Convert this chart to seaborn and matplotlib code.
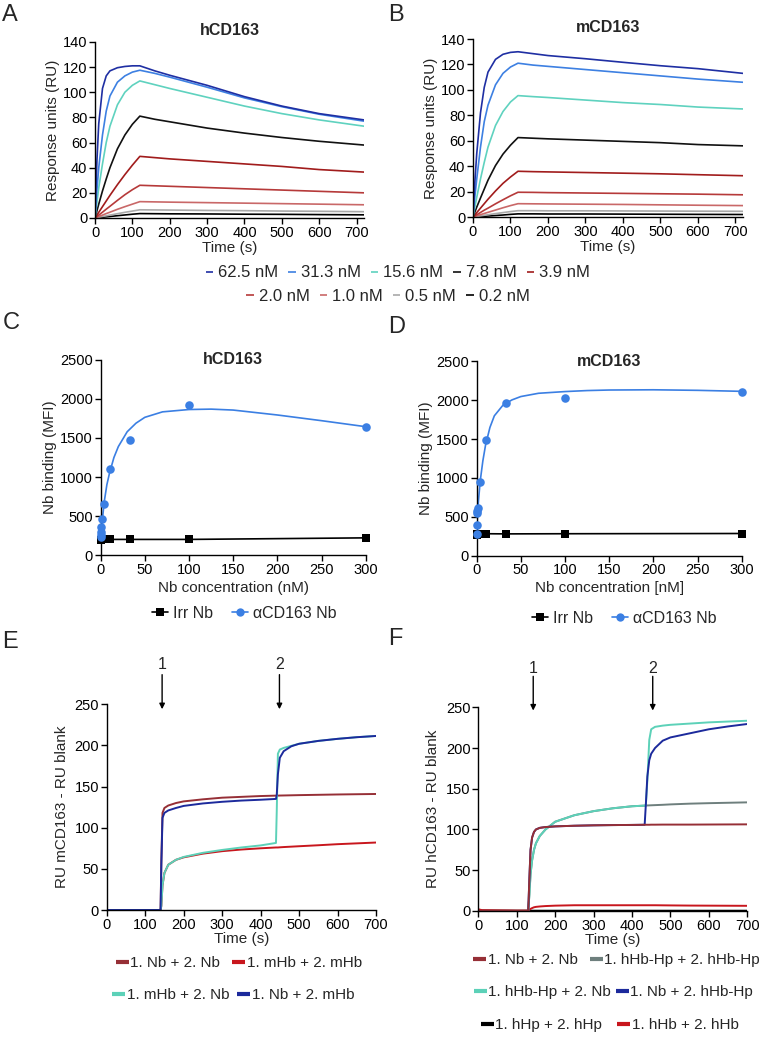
"""
SPR kinetics, Nb titration and sandwich binding panels (A-F)
"""

import matplotlib
matplotlib.use("Agg")
import matplotlib.pyplot as plt
from matplotlib.lines import Line2D
import seaborn as sns

# ============ DATA: panels A / B (SPR kinetics) ============
CONC_LABELS = ["62.5 nM", "31.3 nM", "15.6 nM", "7.8 nM", "3.9 nM",
               "2.0 nM", "1.0 nM", "0.5 nM", "0.2 nM"]
CONC_COLORS = ["#1f2fa3", "#3d80e2", "#5fd2bf", "#111111", "#a11c1c",
               "#b63a3a", "#c96868", "#a9a9a9", "#000000"]
T_KIN = [0, 5, 10, 20, 30, 40, 60, 80, 100, 120, 160, 200, 300, 400, 500, 600, 720]

H_625 = [0, 45, 75, 103, 113, 117, 119.5, 120.5, 121, 121, 117, 113.5, 105.5, 96.5, 89, 83, 78]
H_313 = [0, 22, 40, 66, 85, 97, 108, 113, 116, 117.5, 115, 112, 104, 95.5, 88.5, 82.5, 77]
H_156 = [0, 12, 24, 43, 60, 73, 90, 100, 105.5, 109, 106, 103, 96, 89, 83, 78, 73]
H_78 = [0, 5.5, 11, 21.5, 31, 40, 55, 66, 74.5, 81, 78.5, 76.5, 71.5, 67.5, 64, 61, 58]
H_39 = [0, 2.2, 4.5, 9, 13.5, 18, 26.5, 34.5, 42, 49, 48, 47, 45, 43, 41, 38.5, 36.5]
H_20 = [0, 1.1, 2.3, 4.6, 7, 9.3, 14, 18.5, 22.5, 26, 25.6, 25.2, 24.2, 23.2, 22.2, 21.2, 20]
H_10 = [0, 0.6, 1.2, 2.3, 3.5, 4.6, 6.9, 9, 11, 13, 12.8, 12.6, 12.2, 11.8, 11.4, 11, 10.5]
H_05 = [0, 0.3, 0.6, 1.2, 1.7, 2.3, 3.4, 4.5, 5.5, 6.5, 6.4, 6.3, 6, 5.8, 5.5, 5.3, 5]
H_02 = [0, 0.15, 0.3, 0.6, 0.9, 1.2, 1.8, 2.4, 3, 3.5, 3.4, 3.3, 3.2, 3, 2.9, 2.7, 2.5]

M_625 = [0, 28, 50, 82, 102, 114, 124, 128, 129.5, 130, 128.5, 127, 124.5, 121.7, 119, 116.7, 113]
M_313 = [0, 16, 30, 55, 75, 88, 104, 113, 118, 121, 119.5, 118.5, 116, 113.5, 111, 108.5, 106]
M_156 = [0, 8, 15.5, 30, 43, 55, 72, 83, 90.5, 95.5, 94.7, 94, 92, 90, 88.5, 86.5, 85]
M_78 = [0, 4, 7.8, 15, 22, 29, 40.5, 49.5, 56.5, 62.5, 62, 61.5, 60.5, 59.5, 58.5, 57, 56]
M_39 = [0, 1.7, 3.5, 7, 10.5, 14, 20.5, 26.5, 31.5, 36, 35.7, 35.5, 35, 34.5, 34, 33.3, 32.5]
M_20 = [0, 0.9, 1.8, 3.6, 5.4, 7, 10.4, 13.6, 16.7, 19.5, 19.4, 19.2, 18.9, 18.6, 18.3, 18, 17.5]
M_10 = [0, 0.5, 1, 1.9, 2.8, 3.7, 5.5, 7.3, 9, 10.5, 10.4, 10.3, 10.1, 9.9, 9.6, 9.3, 9]
M_05 = [0, 0.2, 0.5, 0.9, 1.4, 1.8, 2.7, 3.5, 4.3, 5, 5, 4.9, 4.9, 4.8, 4.7, 4.6, 4.5]
M_02 = [0, 0.1, 0.2, 0.4, 0.6, 0.8, 1.2, 1.6, 2.1, 2.5, 2.5, 2.4, 2.4, 2.3, 2.2, 2.1, 2]

H_CURVES = [H_625, H_313, H_156, H_78, H_39, H_20, H_10, H_05, H_02]
M_CURVES = [M_625, M_313, M_156, M_78, M_39, M_20, M_10, M_05, M_02]

# ============ DATA: panels C / D (Nb titration) ============
NB_CONC = [0.015, 0.046, 0.137, 0.41, 1.23, 3.7, 11.1, 33.3, 100, 300]
C_ANTI = [225, 260, 300, 360, 465, 655, 1100, 1480, 1920, 1635]
C_IRR = [195, 195, 195, 198, 200, 200, 200, 200, 200, 220]
D_ANTI = [285, 395, 550, 575, 610, 950, 1490, 1960, 2030, 2110]
D_IRR = [270, 275, 278, 280, 280, 282, 282, 280, 282, 285]

FIT_X = [0, 1, 2, 4, 7, 10, 15, 20, 30, 40, 50, 70, 100, 125, 150, 200, 250, 300]
C_FIT = [200, 330, 460, 680, 900, 1050, 1250, 1390, 1580, 1690, 1765, 1835, 1865, 1870,
         1858, 1795, 1722, 1645]
D_FIT = [290, 520, 700, 960, 1220, 1420, 1650, 1800, 1940, 2005, 2048, 2090, 2112, 2125,
         2132, 2135, 2128, 2115]

BLUE = "#3b7fe3"

# ============ DATA: panel E (mCD163 sandwich) ============
E_T = [0, 100, 140, 142, 145, 150, 160, 180, 200, 250, 300, 350, 400, 440, 442, 445,
       450, 460, 480, 500, 550, 600, 650, 700]
E_NB_NB = [0, 0, 0, 60, 118, 124, 127, 130, 132, 134.5, 136.5, 137.5, 138.5, 139, 139, 139,
           139.1, 139.2, 139.4, 139.6, 140, 140.4, 140.7, 141]
E_MHB_MHB = [0, 0, 0, 5, 30, 45, 55, 61, 64, 68.5, 71.5, 73.5, 75, 76, 76, 76,
             76.2, 76.5, 77, 77.5, 78.7, 80, 81, 82]
E_MHB_NB = [0, 0, 0, 5, 30, 45, 55, 61, 64.5, 69.5, 73, 76, 78.5, 81.5, 120, 190,
            195, 197, 199.5, 202, 205.5, 208, 210, 211.5]
E_NB_MHB = [0, 0, 0, 55, 112, 118, 121, 124, 126.5, 129.5, 131.5, 133, 134, 135, 140, 165,
            185, 193, 199, 202, 205.5, 208, 210, 211.5]
E_LABELS = ["1. Nb + 2. Nb", "1. mHb + 2. mHb", "1. mHb + 2. Nb", "1. Nb + 2. mHb"]
E_COLORS = ["#962f36", "#c8161d", "#5cd1b8", "#1c2a9c"]
E_ARROWS = [144, 449]

# ============ DATA: panel F (hCD163 sandwich) ============
F_T = [0, 10, 100, 130, 133, 136, 140, 145, 150, 160, 175, 200, 250, 300, 350, 400,
       433, 436, 440, 445, 450, 460, 480, 500, 550, 600, 650, 700]
F_NB_NB = [0, 0, 0, 0, 40, 75, 90, 97, 100, 102, 103, 103.8, 104.6, 105.1, 105.4, 105.6,
           105.8, 105.8, 105.8, 105.8, 105.9, 105.9, 106, 106, 106, 106.1, 106.2, 106.3]
F_HBHP_HBHP = [0, 0, 0, 0, 20, 45, 62, 75, 83, 92, 100, 109.5, 117.5, 122.5, 126, 128.5,
               129.3, 129.4, 129.5, 129.6, 129.7, 129.9, 130.3, 130.8, 131.7, 132.3, 132.8, 133.3]
F_HBHP_NB = [0, 0, 0, 0, 20, 45, 62, 75, 83, 92, 100, 109.5, 117.5, 122.5, 126, 128.5,
             129.3, 129.4, 160, 210, 223, 226, 227.5, 228.5, 230, 231.5, 232.5, 233.5]
F_NB_HBHP = [0, 0, 0, 0, 40, 75, 90, 97, 100, 102, 103, 103.8, 104.6, 105.1, 105.4, 105.6,
             105.8, 130, 165, 185, 193, 200, 209, 213, 218, 223, 226.5, 229.5]
F_HP_HP = [1.5, 0.5, 0.3, 0.3, 0.3, 0.3, 0.3, 0.3, 0.3, 0.3, 0.3, 0.3, 0.3, 0.3, 0.3, 0.3,
           0.3, 0.3, 0.3, 0.3, 0.3, 0.3, 0.3, 0.3, 0.3, 0.3, 0.3, 0.3]
F_HB_HB = [2, 1, 0.5, 0.5, 1.5, 2.5, 3.5, 4.5, 5, 5.5, 6, 6.5, 7, 7, 7, 7,
           7, 7, 7, 7, 7, 7, 6.9, 6.8, 6.6, 6.5, 6.4, 6.3]
F_LABELS = ["1. Nb + 2. Nb", "1. hHb-Hp + 2. hHb-Hp", "1. hHb-Hp + 2. Nb",
            "1. Nb + 2. hHb-Hp", "1. hHp + 2. hHp", "1. hHb + 2. hHb"]
F_COLORS = ["#962f36", "#6e7f7d", "#5cd1b8", "#1c2a9c", "#000000", "#c8161d"]
F_ARROWS = [143, 454]

TICK_FS = 10.5
LABEL_FS = 11
TITLE_FS = 11.5


def style_axis(ax):
    """GraphPad-like axis: left/bottom spines only, outward ticks"""
    sns.despine(ax=ax)
    for s in ["left", "bottom"]:
        ax.spines[s].set_linewidth(1)
        ax.spines[s].set_color("black")
    ax.tick_params(direction="out", length=4, width=1, labelsize=TICK_FS,
                   colors="black", pad=1.5)


def plot_kinetics(ax, curves, title):
    for vals, c in zip(curves[::-1], CONC_COLORS[::-1]):
        sns.lineplot(x=T_KIN, y=vals, ax=ax, color=c, linewidth=1.2)
    ax.set_xlim(0, 720)
    ax.set_ylim(0, 140)
    ax.set_xticks(range(0, 701, 100))
    ax.set_yticks(range(0, 141, 20))
    ax.set_xlabel("Time (s)", fontsize=LABEL_FS, labelpad=1)
    ax.set_ylabel("Response units (RU)", fontsize=LABEL_FS, labelpad=2)
    ax.set_title(title, fontsize=TITLE_FS, fontweight="bold", pad=5)
    style_axis(ax)


def plot_titration(ax, fit, anti, irr, title, xlabel):
    sns.lineplot(x=FIT_X, y=fit, ax=ax, color=BLUE, linewidth=1.2)
    sns.lineplot(x=NB_CONC, y=irr, ax=ax, color="black", linewidth=1.2, marker="s",
                 markersize=6, markeredgewidth=0, clip_on=False, zorder=3)
    sns.scatterplot(x=NB_CONC, y=anti, ax=ax, color=BLUE, s=38, linewidth=0,
                    clip_on=False, zorder=4)
    ax.set_xlim(0, 300)
    ax.set_ylim(0, 2500)
    ax.set_xticks(range(0, 301, 50))
    ax.set_yticks(range(0, 2501, 500))
    ax.set_xlabel(xlabel, fontsize=LABEL_FS, labelpad=3)
    ax.set_ylabel("Nb binding (MFI)", fontsize=LABEL_FS, labelpad=2)
    ax.text(0.5, 1.0, title, transform=ax.transAxes, ha="center", va="center",
            fontsize=TITLE_FS, fontweight="bold")
    style_axis(ax)


def plot_sandwich(ax, t, curves, colors, ylabel, arrows, top):
    for vals, c in zip(curves, colors):
        sns.lineplot(x=t, y=vals, ax=ax, color=c, linewidth=1.4)
    ax.set_xlim(0, 700)
    ax.set_ylim(0, 250)
    ax.set_xticks(range(0, 701, 100))
    ax.set_yticks(range(0, 251, 50))
    ax.set_xlabel("Time (s)", fontsize=LABEL_FS, labelpad=0)
    ax.set_ylabel(ylabel, fontsize=LABEL_FS, labelpad=4)
    for i, x in enumerate(arrows):
        ax.annotate("", xy=(x, top[0]), xytext=(x, top[1]), annotation_clip=False,
                    arrowprops=dict(arrowstyle="-|>", lw=1, color="black",
                                    mutation_scale=8, shrinkA=0, shrinkB=0))
        ax.text(x, top[2], str(i + 1), ha="center", va="center", fontsize=11.5,
                clip_on=False)
    style_axis(ax)


def row_legend(fig, labels, colors, x, y, lw, hl, pad, cs, fs):
    handles = [Line2D([], [], color=c, lw=lw, solid_capstyle="butt") for c in colors]
    leg = fig.legend(handles, labels, loc="center", bbox_to_anchor=(x, y),
                     ncol=len(labels), frameon=False, fontsize=fs, handlelength=hl,
                     handletextpad=pad, columnspacing=cs, borderpad=0,
                     borderaxespad=0)
    return leg


def main():
    sns.set_theme(style="ticks", rc={"axes.edgecolor": "black",
                                     "xtick.color": "black", "ytick.color": "black"})
    plt.rcParams["font.family"] = ["Liberation Sans", "DejaVu Sans"]

    fig = plt.figure(figsize=(7.65, 10.38), dpi=100)

    ax_a = fig.add_axes([0.1242, 0.7900, 0.3516, 0.1696])
    ax_b = fig.add_axes([0.6183, 0.7909, 0.3529, 0.1715])
    ax_c = fig.add_axes([0.1316, 0.4653, 0.3464, 0.1879])
    ax_d = fig.add_axes([0.6231, 0.4647, 0.3464, 0.1871])
    ax_e = fig.add_axes([0.1395, 0.1233, 0.3520, 0.1982])
    ax_f = fig.add_axes([0.6252, 0.1224, 0.3516, 0.1962])

    # A / B
    plot_kinetics(ax_a, H_CURVES, "hCD163")
    plot_kinetics(ax_b, M_CURVES, "mCD163")
    row_legend(fig, CONC_LABELS[:5], CONC_COLORS[:5], 0.52, 0.737, 1.2, 0.45, 0.3, 0.6, 12)
    row_legend(fig, CONC_LABELS[5:], CONC_COLORS[5:], 0.507, 0.7148, 1.2, 0.45, 0.3, 0.6, 12)

    # C / D
    plot_titration(ax_c, C_FIT, C_ANTI, C_IRR, "hCD163", "Nb concentration (nM)")
    plot_titration(ax_d, D_FIT, D_ANTI, D_IRR, "mCD163", "Nb concentration [nM]")
    nb_handles = [Line2D([], [], color="black", marker="s", lw=1.2, markersize=6,
                         markeredgewidth=0),
                  Line2D([], [], color=BLUE, marker="o", lw=1.2, markersize=6,
                         markeredgewidth=0)]
    for x, y in [(0.319, 0.4094), (0.816, 0.4046)]:
        fig.legend(nb_handles, ["Irr Nb", "αCD163 Nb"], loc="center",
                   bbox_to_anchor=(x, y), ncol=2, frameon=False, fontsize=11.5,
                   handlelength=1.0, handletextpad=0.3, columnspacing=1.2,
                   borderpad=0, borderaxespad=0)

    # E
    plot_sandwich(ax_e, E_T, [E_MHB_MHB, E_NB_NB, E_MHB_NB, E_NB_MHB],
                  [E_COLORS[1], E_COLORS[0], E_COLORS[2], E_COLORS[3]],
                  "RU mCD163 - RU blank", E_ARROWS, (244, 286, 298))
    row_legend(fig, E_LABELS[:2], E_COLORS[:2], 0.312, 0.0723, 3, 0.85, 0.1, 0.8, 11)
    row_legend(fig, E_LABELS[2:], E_COLORS[2:], 0.305, 0.0414, 3, 0.85, 0.1, 0.5, 11)

    # F
    plot_sandwich(ax_f, F_T, [F_HP_HP, F_HB_HB, F_HBHP_HBHP, F_HBHP_NB, F_NB_HBHP, F_NB_NB],
                  [F_COLORS[4], F_COLORS[5], F_COLORS[1], F_COLORS[2], F_COLORS[3],
                   F_COLORS[0]],
                  "RU hCD163 - RU blank", F_ARROWS, (246, 288, 298))
    row_legend(fig, F_LABELS[:2], F_COLORS[:2], 0.806, 0.0751, 3, 0.85, 0.1, 0.8, 11)
    row_legend(fig, F_LABELS[2:4], F_COLORS[2:4], 0.802, 0.0443, 3, 0.85, 0.1, 0.3, 11)
    row_legend(fig, F_LABELS[4:], F_COLORS[4:], 0.797, 0.0125, 3, 0.85, 0.1, 1.0, 11)

    # panel letters
    for letter, x, y in [("A", 0.003, 0.996), ("B", 0.508, 0.996), ("C", 0.003, 0.699),
                         ("D", 0.508, 0.696), ("E", 0.003, 0.392), ("F", 0.508, 0.395)]:
        fig.text(x, y, letter, fontsize=17, ha="left", va="top")

    fig.savefig("out.png", dpi=100)


if __name__ == "__main__":
    main()
